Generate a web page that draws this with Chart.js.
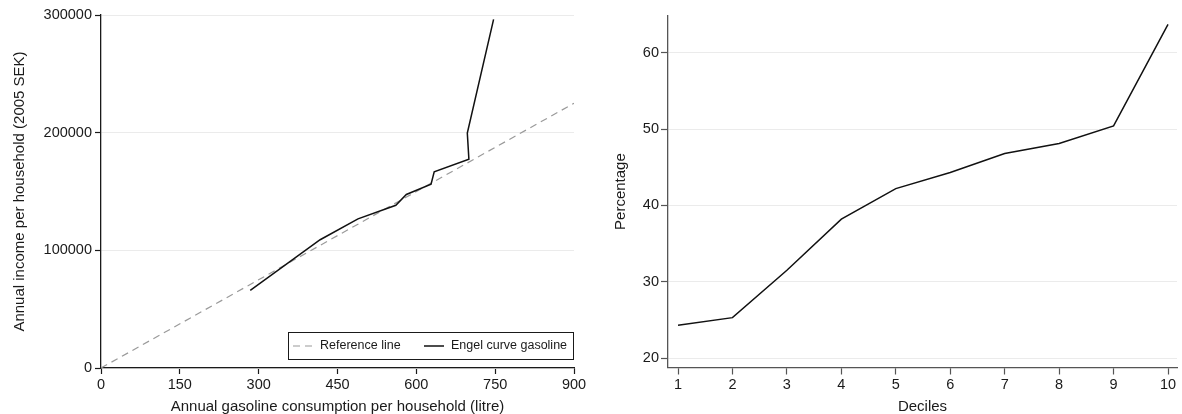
<!DOCTYPE html>
<html lang="en">
<head>
    <meta charset="UTF-8" />
    <title>Gasoline Engel curve and deciles</title>
    <script src="https://cdn.jsdelivr.net/npm/chart.js"></script>
    <style>
        body {
            margin: 0;
            background: #fff;
        }
        .panel {
            position: absolute;
            top: 0;
            height: 414px;
        }
        #panelLeft { left: 0; width: 590px; }
        #panelRight { left: 590px; width: 592px; }
    </style>
</head>
<body>
    <div class="panel" id="panelLeft"><canvas id="graficoEngel"></canvas></div>
    <div class="panel" id="panelRight"><canvas id="graficoDeciles"></canvas></div>

    <script>
        // Engel curve: litres vs household income
        const engelLitros = [284, 417, 489, 561, 581, 628, 634, 700, 697, 747];
        const engelIngreso = [66000, 109000, 126700, 138300, 147500, 156200, 166800, 177400, 199700, 296300];

        // reference line endpoints
        const refLitros = [0, 900];
        const refIngreso = [0, 225000];

        const ticksLitros = [0, 150, 300, 450, 600, 750, 900];
        const ticksIngreso = [0, 100000, 200000, 300000];

        // share per decile
        const deciles = [1, 2, 3, 4, 5, 6, 7, 8, 9, 10];
        const porcentaje = [24.3, 25.3, 31.5, 38.2, 42.2, 44.3, 46.8, 48.1, 50.4, 63.7];
        const ticksPorcentaje = [20, 30, 40, 50, 60];

        const fuente = "'Liberation Sans', Arial, Helvetica, sans-serif";
        Chart.defaults.font.family = fuente;
        Chart.defaults.color = '#1a1a1a';

        const puntos = (xs, ys) => xs.map((x, i) => ({ x: x, y: ys[i] }));
        const fijarTicks = valores => scale => { scale.ticks = valores.map(v => ({ value: v })); };
        const sinComas = v => String(v);

        // legend box drawn inside the plot, bottom right
        const leyendaCaja = {
            id: 'leyendaCaja',
            afterDraw(chart) {
                const ctx = chart.ctx;
                const area = chart.chartArea;
                const ancho = 286, alto = 28;
                const x0 = area.right - ancho, y0 = area.bottom - 8 - alto;
                const yc = y0 + alto / 2;
                ctx.save();
                ctx.fillStyle = '#fff';
                ctx.fillRect(x0, y0, ancho, alto);
                ctx.strokeStyle = '#1a1a1a';
                ctx.lineWidth = 1;
                ctx.strokeRect(x0 + 0.5, y0 + 0.5, ancho - 1, alto - 1);
                const offsets = [5, 136];
                chart.data.datasets.forEach((ds, i) => {
                    const sx = x0 + offsets[i];
                    ctx.beginPath();
                    ctx.setLineDash(ds.borderDash || []);
                    ctx.strokeStyle = ds.borderColor;
                    ctx.lineWidth = ds.borderWidth;
                    ctx.moveTo(sx, yc);
                    ctx.lineTo(sx + 20, yc);
                    ctx.stroke();
                    ctx.setLineDash([]);
                    ctx.fillStyle = '#1a1a1a';
                    ctx.font = '12.5px ' + fuente;
                    ctx.textBaseline = 'middle';
                    ctx.fillText(ds.label, sx + 27, yc);
                });
                ctx.restore();
            }
        };

        new Chart(document.getElementById('graficoEngel'), {
            type: 'scatter',
            data: {
                datasets: [{
                    label: 'Reference line',
                    data: puntos(refLitros, refIngreso),
                    showLine: true,
                    borderColor: '#9a9a9a',
                    borderWidth: 1.2,
                    borderDash: [7, 5],
                    pointRadius: 0,
                    order: 2
                }, {
                    label: 'Engel curve gasoline',
                    data: puntos(engelLitros, engelIngreso),
                    showLine: true,
                    borderColor: '#111',
                    borderWidth: 1.5,
                    pointRadius: 0,
                    order: 1
                }]
            },
            options: {
                responsive: true,
                maintainAspectRatio: false,
                animation: false,
                layout: { padding: { top: 15, right: 16, left: 0, bottom: 0 } },
                plugins: { legend: { display: false }, tooltip: { enabled: false } },
                scales: {
                    x: {
                        type: 'linear',
                        min: 0,
                        max: 900,
                        afterBuildTicks: fijarTicks(ticksLitros),
                        afterFit: s => { s.height = 46; },
                        grid: { drawOnChartArea: false, tickLength: 6, tickColor: '#1a1a1a', tickWidth: 1.2 },
                        border: { color: '#1a1a1a', width: 1.3 },
                        ticks: { font: { size: 14.5 }, padding: 2, maxRotation: 0, callback: sinComas },
                        title: {
                            display: true,
                            text: 'Annual gasoline consumption per household (litre)',
                            font: { size: 15, lineHeight: 1 },
                            padding: { top: 0, bottom: 0 }
                        }
                    },
                    y: {
                        type: 'linear',
                        min: 0,
                        max: 300000,
                        afterBuildTicks: fijarTicks(ticksIngreso),
                        afterFit: s => { s.width = 101; },
                        grid: { color: '#ebebeb', lineWidth: 1, tickLength: 6, tickColor: '#1a1a1a', tickWidth: 1.2 },
                        border: { color: '#1a1a1a', width: 1.3 },
                        ticks: { font: { size: 14.5 }, padding: 3, callback: sinComas },
                        title: {
                            display: true,
                            text: 'Annual income per household (2005 SEK)',
                            font: { size: 15, lineHeight: 1.2 },
                            padding: { top: 11, bottom: 0 }
                        }
                    }
                }
            },
            plugins: [leyendaCaja]
        });

        new Chart(document.getElementById('graficoDeciles'), {
            type: 'scatter',
            data: {
                datasets: [{
                    label: 'Percentage',
                    data: puntos(deciles, porcentaje),
                    showLine: true,
                    borderColor: '#111',
                    borderWidth: 1.5,
                    pointRadius: 0
                }]
            },
            options: {
                responsive: true,
                maintainAspectRatio: false,
                animation: false,
                layout: { padding: { top: 15.7, right: 5, left: 0, bottom: 0 } },
                plugins: { legend: { display: false }, tooltip: { enabled: false } },
                scales: {
                    x: {
                        type: 'linear',
                        min: 0.816,
                        max: 10.165,
                        afterBuildTicks: fijarTicks(deciles),
                        afterFit: s => { s.height = 46.5; },
                        grid: { drawOnChartArea: false, tickLength: 7, tickColor: '#555', tickWidth: 1.2 },
                        border: { color: '#555', width: 1.3 },
                        ticks: { font: { size: 14.5 }, padding: 2, maxRotation: 0, callback: sinComas },
                        title: {
                            display: true,
                            text: 'Deciles',
                            font: { size: 15, lineHeight: 1 },
                            padding: { top: 0, bottom: 0 }
                        }
                    },
                    y: {
                        type: 'linear',
                        min: 18.77,
                        max: 64.84,
                        afterBuildTicks: fijarTicks(ticksPorcentaje),
                        afterFit: s => { s.width = 78; },
                        grid: { color: '#ebebeb', lineWidth: 1, tickLength: 7, tickColor: '#555', tickWidth: 1.2 },
                        border: { color: '#555', width: 1.3 },
                        ticks: { font: { size: 14.5 }, padding: 2, callback: sinComas },
                        title: {
                            display: true,
                            text: 'Percentage',
                            font: { size: 15, lineHeight: 1.2 },
                            padding: { top: 22, bottom: 0 }
                        }
                    }
                }
            }
        });
    </script>
</body>
</html>
